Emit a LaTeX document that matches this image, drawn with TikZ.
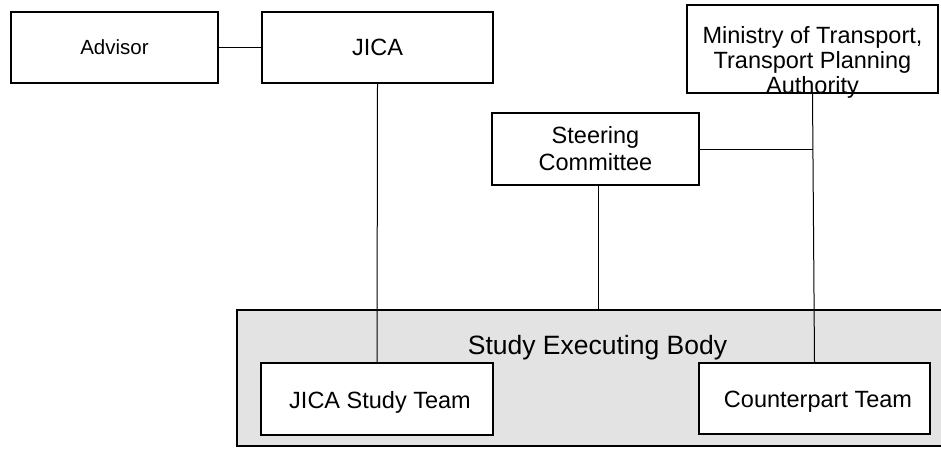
\documentclass[tikz,border=0pt]{standalone}
\usepackage{fontspec}
\setmainfont{Liberation Sans}
\tikzset{
  box/.style={draw,line width=1.2pt,fill=white,inner sep=0pt},
  conn/.style={line width=1pt},
  txt/.style={font=\fontsize{23.5}{27}\selectfont,align=center,inner sep=0pt}
}
\definecolor{bodygray}{HTML}{E3E3E3}

\begin{document}
\begin{tikzpicture}[x=1pt,y=-1pt]
  \useasboundingbox (0,0) rectangle (941,448);
  % study executing body
  \node[box,fill=bodygray,minimum width=708,minimum height=136] (body) at (591,378) {};
  \node[txt,font=\fontsize{26.5}{30}\selectfont,anchor=base] (bodytitle) at (597.5,354) {Study Executing Body};
  % boxes
  \node[box,txt,font=\fontsize{20.5}{24}\selectfont,minimum width=207,minimum height=71] (advisor) at (114.5,47.5) {Advisor};
  \node[box,txt,minimum width=231,minimum height=71] (jica) at (377.5,47.5) {JICA};
  \node[box,minimum width=251,minimum height=88] (ministry) at (812.5,49) {};
  \node[txt,font=\fontsize{23.5}{25}\selectfont] (ministrytext) at ([yshift=-13]ministry.center)
    {Ministry of Transport,\\Transport Planning\\Authority};
  \node[box,txt,minimum width=207,minimum height=72] (steering) at (595.5,149) {Steering\\Committee};
  \node[box,minimum width=232,minimum height=72] (studyteam) at (377,399) {};
  \node[txt] (studyteamtext) at ([xshift=3,yshift=-3]studyteam.center) {JICA Study Team};
  \node[box,minimum width=231,minimum height=71] (counterpart) at (814.5,398.5) {};
  \node[txt] (counterparttext) at ([xshift=3.5,yshift=-3]counterpart.center) {Counterpart Team};
  % connectors
  \draw[conn] (advisor.east) -- (jica.west);
  \draw[conn] (jica.south) -- (studyteam.north);
  \draw[conn] (ministry.south) -- (counterpart.north);
  \draw[conn] (steering.east) -- (steering.east -| ministry.south);
  \draw[conn] ([xshift=2.5]steering.south) -- ([xshift=2.5]steering.south |- body.north);
\end{tikzpicture}
\end{document}
